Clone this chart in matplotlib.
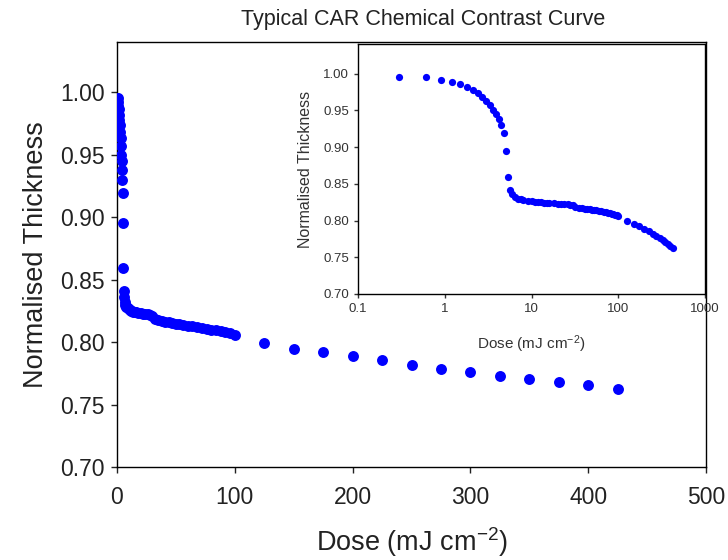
import matplotlib
matplotlib.use('Agg')
import matplotlib.pyplot as plt

plt.rcParams['font.family'] = ['Liberation Sans', 'DejaVu Sans']
plt.rcParams['mathtext.default'] = 'regular'

# Dose (mJ cm-2) e espessura normalizada
dose_low = [0.3, 0.6, 0.9, 1.2, 1.5, 1.8, 2.1, 2.4, 2.7, 3.0,
            3.3, 3.6, 3.9, 4.2, 4.5, 4.8, 5.1, 5.4, 5.7]
thick_low = [0.995, 0.995, 0.992, 0.989, 0.9865, 0.982, 0.978, 0.974, 0.968, 0.963,
             0.957, 0.950, 0.945, 0.938, 0.930, 0.919, 0.895, 0.859, 0.841]

dose_mid = [6.0, 6.5, 7, 7.5, 8, 9, 10, 11, 12, 13, 14, 15, 16, 18, 20, 22, 24, 26, 28, 30,
            32, 35, 38, 41, 44, 47, 50, 53, 56, 60, 64, 68, 72, 76, 80, 84, 88, 92, 96, 100]
thick_mid = [0.836, 0.832, 0.830, 0.829, 0.828, 0.827, 0.8262, 0.8255, 0.825, 0.8247,
             0.8244, 0.8241, 0.8238, 0.8234, 0.823, 0.8227, 0.8224, 0.8221, 0.8218, 0.8212,
             0.8182, 0.8174, 0.8168, 0.8162, 0.8157, 0.8152, 0.8148, 0.8143, 0.8138, 0.8132,
             0.8126, 0.812, 0.8113, 0.8106, 0.81, 0.8094, 0.8088, 0.8081, 0.8072, 0.8058]

dose_high = [125, 150, 175, 200, 225, 250, 275, 300, 325, 350, 375, 400, 425]
thick_high = [0.7995, 0.7947, 0.792, 0.7885, 0.7858, 0.7816, 0.7784, 0.7757,
              0.7732, 0.7706, 0.7684, 0.7655, 0.7628]

dose = dose_low + dose_mid + dose_high
thickness = thick_low + thick_mid + thick_high

main_xticks = [0, 100, 200, 300, 400, 500]
yticks = [0.70, 0.75, 0.80, 0.85, 0.90, 0.95, 1.00]
inset_xticks = [0.1, 1, 10, 100, 1000]
inset_xlabels = ['0.1', '1', '10', '100', '1000']

fig = plt.figure(figsize=(7.28, 5.6), dpi=100)

# grafico principal (escala linear)
ax = fig.add_axes([0.1607, 0.166, 0.8093, 0.759])
ax.scatter(dose, thickness, s=62, color='blue', linewidths=0, zorder=3)
ax.set_xlim(0, 500)
ax.set_ylim(0.70, 1.04)
ax.set_xticks(main_xticks)
ax.set_xticklabels([str(v) for v in main_xticks])
ax.set_yticks(yticks)
ax.set_yticklabels(['%.2f' % v for v in yticks])
ax.tick_params(direction='out', length=4, width=1, labelsize=16.5, colors='#222222')
ax.tick_params(axis='x', pad=10)
ax.tick_params(axis='y', pad=5)
for s in ax.spines.values():
    s.set_linewidth(1.0)
ax.set_xlabel('Dose (mJ cm$^{-2}$)', fontsize=19.5, labelpad=11, color='#222222')
ax.set_ylabel('Normalised Thickness', fontsize=19.5, labelpad=8, color='#222222')

fig.text(0.581, 0.965, 'Typical CAR Chemical Contrast Curve', fontsize=15.5,
         ha='center', va='center', color='#222222')

# grafico inserido (escala log)
ins = fig.add_axes([0.4918, 0.475, 0.4766, 0.446])
ins.set_facecolor('white')
ins.scatter(dose, thickness, s=27, color='blue', linewidths=0, zorder=3)
ins.set_xscale('log')
ins.set_xlim(0.1, 1000)
ins.set_ylim(0.70, 1.04)
ins.set_xticks(inset_xticks)
ins.set_xticklabels(inset_xlabels)
ins.minorticks_off()
ins.set_yticks(yticks)
ins.set_yticklabels(['%.2f' % v for v in yticks])
ins.tick_params(direction='out', length=3, width=1, labelsize=9.5, colors='#333333')
for s in ins.spines.values():
    s.set_linewidth(1.0)
ins.set_xlabel('Dose (mJ cm$^{-2}$)', fontsize=11, labelpad=13, color='#333333')
ins.set_ylabel('Normalised Thickness', fontsize=11.5, labelpad=7, color='#333333')

fig.savefig('out.png', dpi=100)
